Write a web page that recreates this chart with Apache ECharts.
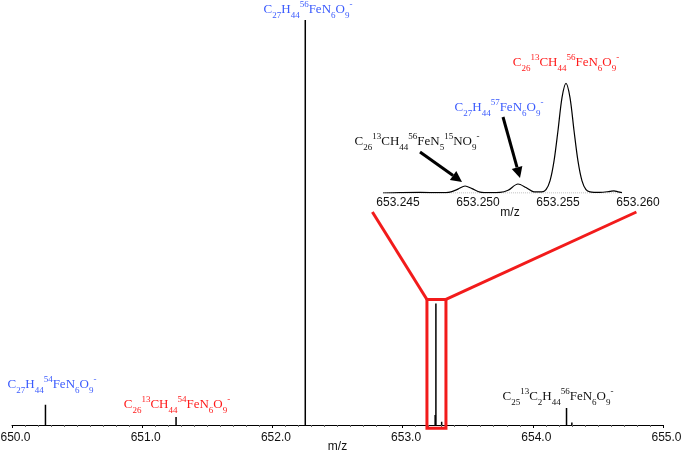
<!DOCTYPE html>
<html>
<head>
<meta charset="utf-8">
<script src="https://cdn.jsdelivr.net/npm/echarts@6/dist/echarts.min.js"></script>
<style>
  html, body { margin: 0; background: #fff; }
  #chart { width: 684px; height: 452px; }
</style>
</head>
<body>
<div id="chart"></div>
<script>
// stick spectrum: m/z and relative intensity (%)
const stickMz = [650.257, 651.260, 652.2525, 653.250, 653.2558, 653.300, 654.259, 654.300];
const stickInt = [5.0, 2.0, 100, 2.5, 30, 0.8, 4.2, 0.6];

// zoomed profile of the 653.25 cluster
const profMz = [653.24406, 653.24513, 653.24638, 653.24763, 653.24825, 653.24875, 653.24919,
  653.24963, 653.25013, 653.25075, 653.25138, 653.25188, 653.2525, 653.253, 653.2535, 653.254,
  653.25425, 653.2545, 653.25475, 653.255, 653.25525, 653.2555, 653.25575, 653.256, 653.25625,
  653.2565, 653.25675, 653.257, 653.25763, 653.25825, 653.2585, 653.25875, 653.259];
const profInt = [0, 0.3, 0.5, 0.3, 0.8, 3.5, 6.4,
  4.0, 0.8, 0.3, 0.5, 2.5, 8.2, 5.0, 1.0, 1.0,
  3, 11, 29, 57, 87, 100, 87, 57, 29,
  11, 3, 1, 0.5, 1.5, 2, 1, 0.3];

const mainTicks = [650, 651, 652, 653, 654, 655];
const insetTicks = [653.245, 653.250, 653.255, 653.260];

const BLUE = "#3b5bfd";
const RED = "#ff1a1a";
const SERIF = "Liberation Serif";

// formula with _{sub} and ^{sup} -> rich text
function formula(s) {
  let out = "";
  s.replace(/_\{([^}]*)\}|\^\{([^}]*)\}|([^_^]+)/g, (m, sb, sp, n) => {
    if (sb !== undefined) out += "{sb|" + sb + "}";
    else if (sp !== undefined) out += "{sp|" + sp + "}";
    else out += "{n|" + n + "}";
  });
  return out;
}
const rich = {
  n: { fontSize: 13, fontFamily: SERIF, lineHeight: 20 },
  sb: { fontSize: 9, fontFamily: SERIF, lineHeight: 12, verticalAlign: "bottom" },
  sp: { fontSize: 9, fontFamily: SERIF, lineHeight: 10, verticalAlign: "top" },
};
function label(text, x, y, color) {
  return {
    type: "text", x: x, y: y, z: 10,
    style: { text: formula(text), rich: rich, fill: color, align: "center", verticalAlign: "middle" },
  };
}

const chart = echarts.init(document.getElementById("chart"));

const axisFont = { color: "#111", fontSize: 12, fontFamily: "Liberation Sans" };

chart.setOption({
  animation: false,
  grid: [
    { left: 12, right: 21, top: 20, bottom: 27, outerBoundsMode: "none", containLabel: false },
    { left: 382, right: 46, top: 80, bottom: 259, outerBoundsMode: "none", containLabel: false },
  ],
  xAxis: [
    {
      type: "value", gridIndex: 0, min: 650, max: 655, interval: 1,
      name: "m/z", nameLocation: "middle", nameGap: 16, nameMoveOverlap: false, nameTextStyle: axisFont,
      axisLine: { lineStyle: { color: "#000", width: 1 } },
      axisTick: { length: 3, lineStyle: { color: "#000" } },
      minorTick: { show: true, splitNumber: 10, length: 2, lineStyle: { color: "#666" } },
      splitLine: { show: false },
      axisLabel: Object.assign({ margin: 7, padding: [0, 0, 0, 7], formatter: (v) => v.toFixed(1), customValues: mainTicks }, axisFont),
    },
    {
      type: "value", gridIndex: 1, min: 653.244, max: 653.260,
      name: "m/z", nameLocation: "middle", nameGap: 14, nameMoveOverlap: false, nameTextStyle: axisFont,
      axisLine: { show: false },
      axisTick: { show: false },
      splitLine: { show: false },
      axisLabel: Object.assign({ margin: 4, formatter: (v) => v.toFixed(3), customValues: insetTicks }, axisFont),
    },
  ],
  yAxis: [
    { type: "value", gridIndex: 0, min: 0, max: 100, show: false },
    { type: "value", gridIndex: 1, min: 0, max: 103, show: false },
  ],
  series: [
    {
      type: "bar", xAxisIndex: 0, yAxisIndex: 0, barWidth: 1.5,
      itemStyle: { color: "#000" },
      data: stickMz.map((m, i) => [m, stickInt[i]]),
    },
    {
      type: "line", xAxisIndex: 1, yAxisIndex: 1, symbol: "none",
      lineStyle: { color: "#aaa", width: 1, type: "dotted" },
      data: [[profMz[0], 0], [profMz[profMz.length - 1], 0]],
    },
    {
      type: "line", xAxisIndex: 1, yAxisIndex: 1, symbol: "none", smooth: 0.3,
      lineStyle: { color: "#000", width: 1.2 },
      data: profMz.map((m, i) => [m, profInt[i]]),
    },
  ],
});

// annotations: zoom box, connector lines, arrows, formula labels
const px0 = (v) => chart.convertToPixel({ gridIndex: 0 }, v);
const px1 = (v) => chart.convertToPixel({ gridIndex: 1 }, v);

const boxTL = px0([653.187, 31]);
const boxBR = px0([653.333, -0.8]);
const lineL = px1([653.2434, 0]);
const lineR = px1([653.2599, 0]);

function arrow(sx, sy, tx, ty) {
  const dx = tx - sx, dy = ty - sy, len = Math.hypot(dx, dy);
  const ux = dx / len, uy = dy / len;
  const bx = tx - ux * 11, by = ty - uy * 11;
  return [
    { type: "line", z: 10, shape: { x1: sx, y1: sy, x2: bx, y2: by }, style: { stroke: "#000", lineWidth: 3 } },
    { type: "polygon", z: 10, shape: { points: [[tx, ty], [bx - uy * 5.5, by + ux * 5.5], [bx + uy * 5.5, by - ux * 5.5]] }, style: { fill: "#000" } },
  ];
}
const p1 = px1([653.24919, 6.4]);
const p2 = px1([653.2525, 8.2]);

const redStyle = { stroke: "#f21b1b", lineWidth: 3, fill: null };

chart.setOption({
  graphic: [
    { type: "rect", z: 9, shape: { x: boxTL[0], y: boxTL[1], width: boxBR[0] - boxTL[0], height: boxBR[1] - boxTL[1] }, style: redStyle },
    { type: "line", z: 9, shape: { x1: lineL[0], y1: lineL[1] + 19, x2: boxTL[0], y2: boxTL[1] }, style: redStyle },
    { type: "line", z: 9, shape: { x1: lineR[0], y1: lineR[1] + 19, x2: boxBR[0], y2: boxTL[1] }, style: redStyle },
    ...arrow(420, 152, p1[0] - 3, p1[1] - 4),
    ...arrow(503, 117, p2[0] + 2, p2[1] - 6),
    label("C_{27}H_{44}^{56}FeN_{6}O_{9}^{-}", 308, 10, BLUE),
    label("C_{27}H_{44}^{54}FeN_{6}O_{9}^{-}", 52, 385, BLUE),
    label("C_{26}^{13}CH_{44}^{54}FeN_{6}O_{9}^{-}", 177, 405, RED),
    label("C_{25}^{13}C_{2}H_{44}^{56}FeN_{6}O_{9}^{-}", 558, 397, "#111"),
    label("C_{26}^{13}CH_{44}^{56}FeN_{6}O_{9}^{-}", 566, 63, RED),
    label("C_{27}H_{44}^{57}FeN_{6}O_{9}^{-}", 499, 108, BLUE),
    label("C_{26}^{13}CH_{44}^{56}FeN_{5}^{15}NO_{9}^{-}", 417, 142, "#111"),
  ],
});
</script>
</body>
</html>
